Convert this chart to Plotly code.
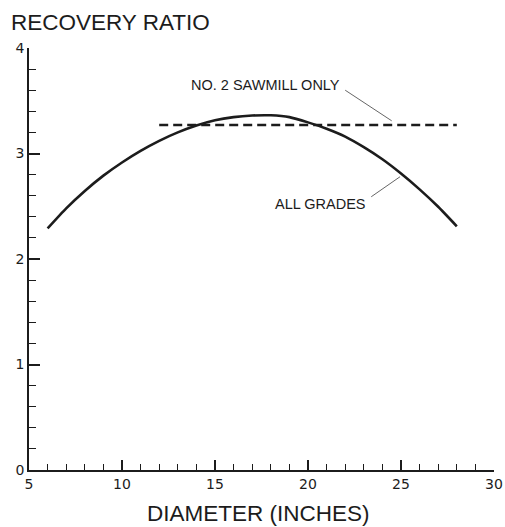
import plotly.graph_objects as go

# Recovery ratio by log diameter
diameter = [6, 7, 8, 9, 10, 11, 12, 13, 14, 15, 16, 17, 18, 19, 20, 21, 22, 23, 24, 25, 26, 27, 28]
all_grades = [2.29, 2.48, 2.645, 2.79, 2.915, 3.025, 3.12, 3.20, 3.265, 3.315, 3.345, 3.36, 3.362,
              3.345, 3.295, 3.235, 3.16, 3.06, 2.945, 2.81, 2.66, 2.495, 2.31]

sawmill_diameter = [12, 28]
sawmill_only = [3.27, 3.27]

x_ticks = [5, 10, 15, 20, 25, 30]
y_ticks = [0, 1, 2, 3, 4]

INK = "#1c1c1c"
TEXT_FONT = "Liberation Sans, Arial, Helvetica, sans-serif"
TICK_FONT = "DejaVu Sans, Verdana, sans-serif"

fig = go.Figure()

fig.add_trace(go.Scatter(
    x=diameter, y=all_grades, mode="lines",
    line=dict(color=INK, width=2.6, shape="spline", smoothing=0.6),
    hoverinfo="skip", showlegend=False,
))
fig.add_trace(go.Scatter(
    x=sawmill_diameter, y=sawmill_only, mode="lines",
    line=dict(color=INK, width=2.6, dash="9px,5px"),
    hoverinfo="skip", showlegend=False,
))

# leader lines for the curve labels
fig.add_shape(type="line", x0=22.0, y0=3.60, x1=24.5, y1=3.31,
              line=dict(color="#666", width=1), xref="x", yref="y")
fig.add_shape(type="line", x0=23.4, y0=2.59, x1=24.95, y1=2.78,
              line=dict(color="#666", width=1), xref="x", yref="y")

fig.add_annotation(x=21.85, y=3.65, xref="x", yref="y", text="NO. 2 SAWMILL ONLY",
                   showarrow=False, xanchor="right", yanchor="middle",
                   font=dict(family=TEXT_FONT, size=14.5, color=INK))
fig.add_annotation(x=23.2, y=2.52, xref="x", yref="y", text="ALL GRADES",
                   showarrow=False, xanchor="right", yanchor="middle",
                   font=dict(family=TEXT_FONT, size=14.5, color=INK))

fig.add_annotation(x=-0.043, y=1.0616, xref="paper", yref="paper", text="RECOVERY RATIO",
                   showarrow=False, xanchor="left", yanchor="middle",
                   font=dict(family=TEXT_FONT, size=22.5, color=INK))
fig.add_annotation(x=0.4925, y=-0.1345, xref="paper", yref="paper", text="DIAMETER (INCHES)",
                   showarrow=False, xanchor="center", yanchor="bottom", borderpad=0,
                   font=dict(family=TEXT_FONT, size=22.5, color=INK))

fig.update_xaxes(
    range=[5, 30], tickvals=x_ticks, ticktext=[str(v) for v in x_ticks],
    ticks="inside", ticklen=10, tickwidth=1.5, tickcolor=INK,
    minor=dict(dtick=1, tick0=5, ticks="inside", ticklen=6, tickwidth=1.3, tickcolor=INK, showgrid=False),
    showline=True, linecolor=INK, linewidth=1.6, showgrid=False, zeroline=False,
    tickfont=dict(family=TICK_FONT, size=14, color=INK), automargin=False,
)
fig.update_yaxes(
    range=[0, 4], tickvals=y_ticks, ticktext=[str(v) for v in y_ticks],
    ticks="inside", ticklen=11, tickwidth=1.5, tickcolor=INK,
    minor=dict(dtick=0.2, tick0=0, ticks="inside", ticklen=7, tickwidth=1.3, tickcolor=INK, showgrid=False),
    showline=True, linecolor=INK, linewidth=1.6, showgrid=False, zeroline=False,
    tickfont=dict(family=TICK_FONT, size=14, color=INK), automargin=False,
)

fig.update_layout(
    width=505, height=527,
    margin=dict(l=29, r=11, t=48, b=57),
    paper_bgcolor="white", plot_bgcolor="white",
)

fig.write_html("out.html")
